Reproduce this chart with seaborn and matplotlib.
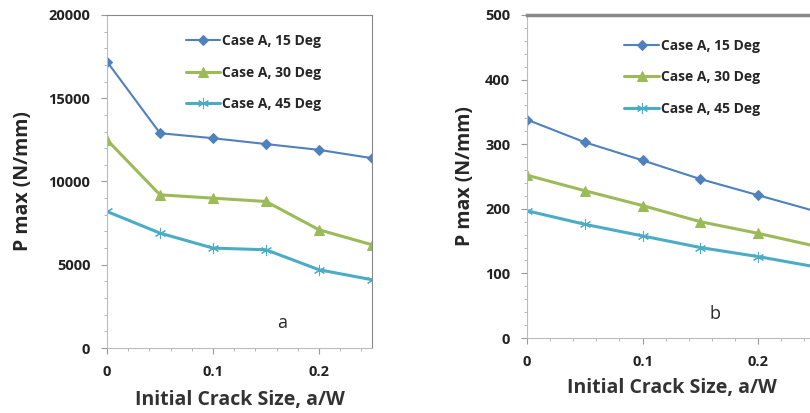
import numpy as np
import pandas as pd
import seaborn as sns
import matplotlib.pyplot as plt
from matplotlib.ticker import MultipleLocator

sns.set_style('ticks')
plt.rcParams['font.family'] = ['Open Sans', 'DejaVu Sans']
plt.rcParams['font.weight'] = 'bold'
plt.rcParams['xtick.labelsize'] = 10.5
plt.rcParams['ytick.labelsize'] = 10.5
plt.rcParams['xtick.labelcolor'] = '#222222'
plt.rcParams['ytick.labelcolor'] = '#222222'

# data
crack = [0, 0.05, 0.1, 0.15, 0.2, 0.25]
labels = ['Case A, 15 Deg', 'Case A, 30 Deg', 'Case A, 45 Deg']
a_15 = [17200, 12900, 12600, 12250, 11900, 11400]
a_30 = [12500, 9200, 9000, 8800, 7100, 6200]
a_45 = [8200, 6900, 6000, 5900, 4700, 4100]
b_15 = [338, 303, 275, 246, 221, 196]
b_30 = [252, 228, 205, 180, 162, 142]
b_45 = [197, 176, 158, 140, 126, 110]

colors = ['#4F81BD', '#9BBB59', '#4BACC6']
markers = ['D', '^', (6, 2, 0)]
msizes = [5.5, 7, 8]

fig = plt.figure(figsize=(8.1, 4.13), dpi=100)
W, H = 810, 413
ax1 = fig.add_axes([107 / W, (H - 348) / H, 265 / W, 333 / H])
ax2 = fig.add_axes([527 / W, (H - 338) / H, 289 / W, 323 / H])

def draw(ax, series, ymax, major, minor, letter, lx, ly, leg_x, leg_y, ylab_x):
    for vals, lab, c, m, ms in zip(series, labels, colors, markers, msizes):
        sns.lineplot(x=crack, y=vals, ax=ax, color=c, marker=m, markersize=ms,
                     markeredgecolor=c, linewidth=2.2 if c != colors[0] else 1.5,
                     label=lab)
    ax.set_xlim(0, 0.25)
    ax.set_ylim(0, ymax)
    ax.set_xticks([0, 0.1, 0.2])
    ax.set_xticklabels(['0', '0.1', '0.2'])
    ax.xaxis.set_minor_locator(MultipleLocator(0.02))
    ax.yaxis.set_major_locator(MultipleLocator(major))
    ax.yaxis.set_minor_locator(MultipleLocator(minor))
    ax.tick_params(which='major', length=4, color='#999999', pad=8)
    ax.tick_params(which='minor', length=2.5, color='#aaaaaa')
    ax.set_xlabel('Initial Crack Size, a/W', fontsize=14, fontweight='bold', color='#333333')
    ax.set_ylabel('P max (N/mm)', fontsize=14, fontweight='bold')
    ax.xaxis.set_label_coords(0.5, -0.125)
    ax.yaxis.set_label_coords(ylab_x, 0.5)
    for s in ['left', 'bottom']:
        ax.spines[s].set_color('#bbbbbb')
    ax.spines['top'].set_color('#888888')
    ax.spines['right'].set_color('#888888')
    ax.text(lx, ymax * ly, letter, fontsize=13, fontweight='normal', ha='center')
    ax.legend(loc='upper left', bbox_to_anchor=(leg_x, leg_y), frameon=False,
              handlelength=2.5, handletextpad=0.1, labelspacing=1.25,
              prop={'weight': 'bold', 'size': 10})

draw(ax1, [a_15, a_30, a_45], 20000, 5000, 1000, 'a', 0.165, 0.06, 0.25, 0.98, -0.28)
draw(ax2, [b_15, b_30, b_45], 500, 100, 20, 'b', 0.163, 0.058, 0.294, 0.965, -0.18)
ax2.spines['top'].set_linewidth(2.5)
ax2.spines['right'].set_visible(False)

fig.savefig('out.png', dpi=100)
